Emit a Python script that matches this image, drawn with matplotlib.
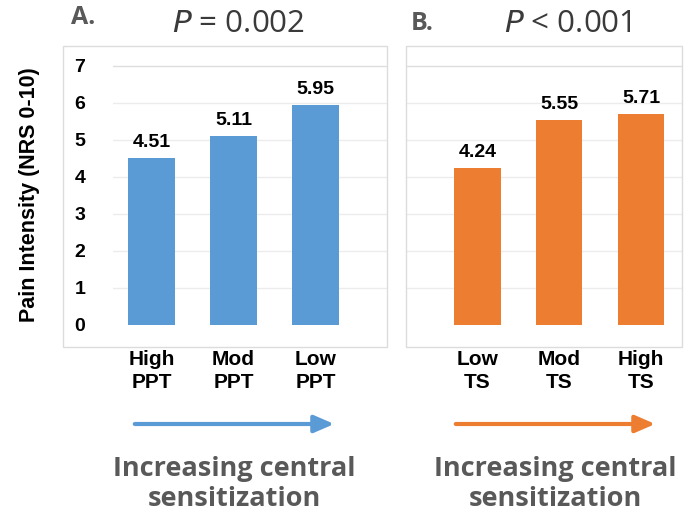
import matplotlib
matplotlib.use("Agg")
import matplotlib.pyplot as plt
from matplotlib.patches import Rectangle, FancyArrowPatch

# data
labels_a = ["High\nPPT", "Mod\nPPT", "Low\nPPT"]
values_a = [4.51, 5.11, 5.95]
labels_b = ["Low\nTS", "Mod\nTS", "High\nTS"]
values_b = [4.24, 5.55, 5.71]
yticks = [0, 1, 2, 3, 4, 5, 6, 7]

W, H = 689, 513
blue = "#5B9BD5"
orange = "#ED7D31"
gray_txt = "#595959"

fig = plt.figure(figsize=(W / 100, H / 100), dpi=100)


def fx(px):
    return px / W


def fy(py):
    return 1 - py / H


def panel(x0, x1, labels, values, color, xlim, show_y):
    # axes covers pixel box x0..x1, y 46..347
    ax = fig.add_axes([fx(x0), fy(347), fx(x1 - x0), fy(46) - fy(347)])
    ax.set_xlim(*xlim)
    ax.set_ylim(-0.595, 7.54)
    for t in yticks[1:]:
        ax.axhline(t, color="#ececec" if t < 7 else "#dedede", lw=1, zorder=0)
    pos = range(len(values))
    bars = ax.bar(pos, values, width=0.57, color=color, zorder=2)
    for b, v in zip(bars, values):
        ax.annotate("%.2f" % v, (b.get_x() + b.get_width() / 2, v),
                    xytext=(0, 5), textcoords="offset points",
                    ha="center", va="bottom", fontsize=14,
                    fontweight="bold", family="Liberation Sans")
    for s in ax.spines.values():
        s.set_visible(False)
    ax.set_xticks(list(pos))
    ax.set_xticklabels(labels, fontsize=15, fontweight="bold",
                       family="Liberation Sans", linespacing=1.3)
    ax.tick_params(axis="x", length=0, pad=2)
    if show_y:
        ax.set_yticks(yticks)
        ax.set_yticklabels([str(t) for t in yticks], fontsize=14,
                           fontweight="bold", family="Liberation Sans")
        ax.tick_params(axis="y", length=0, pad=20)
    else:
        ax.set_yticks([])
    ax.patch.set_alpha(0)
    return ax


ax_a = panel(113, 387, labels_a, values_a, blue, (-0.47, 2.87), True)
ax_b = panel(406, 682, labels_b, values_b, orange, (-0.87, 2.5), False)

# light panel frames
fig.patches.append(Rectangle((fx(63), fy(347)), fx(387 - 63), fy(46) - fy(347),
                             transform=fig.transFigure, fill=False,
                             edgecolor="#dcdcdc", lw=1))
fig.patches.append(Rectangle((fx(406), fy(347)), fx(682 - 406), fy(46) - fy(347),
                             transform=fig.transFigure, fill=False,
                             edgecolor="#dcdcdc", lw=1))

fig.text(fx(30), fy(195), "Pain Intensity (NRS 0-10)", rotation=90,
         ha="center", va="center", fontsize=15.5, fontweight="bold",
         family="Liberation Sans")

# panel letters and p values
fig.text(fx(71), fy(18), "A.", ha="left", va="center", fontsize=18,
         fontweight="bold", color=gray_txt, family="Open Sans")
fig.text(fx(411), fy(24), "B.", ha="left", va="center", fontsize=18,
         fontweight="bold", color=gray_txt, family="Open Sans")
fig.text(fx(238), fy(24), "$\\it{P}$ = 0.002", ha="center", va="center",
         fontsize=22.5, color="#3a3a3a", family="Open Sans")
fig.text(fx(568), fy(24), "$\\it{P}$ < 0.001", ha="center", va="center",
         fontsize=22.5, color="#3a3a3a", family="Open Sans")

# arrows
for xa, xb, c in [(132, 337, blue), (453, 658, orange)]:
    fig.add_artist(FancyArrowPatch(
        (fx(xa), fy(424)), (fx(xb), fy(424)), transform=fig.transFigure,
        arrowstyle="-|>,head_length=6,head_width=2.6", color=c, lw=3,
        mutation_scale=2))

for xc in (234, 555):
    fig.text(fx(xc), fy(484), "Increasing central\nsensitization",
             ha="center", va="center", fontsize=19.5, fontweight="bold",
             color=gray_txt, family="Open Sans", linespacing=1.25)

fig.savefig("out.png", dpi=100)
